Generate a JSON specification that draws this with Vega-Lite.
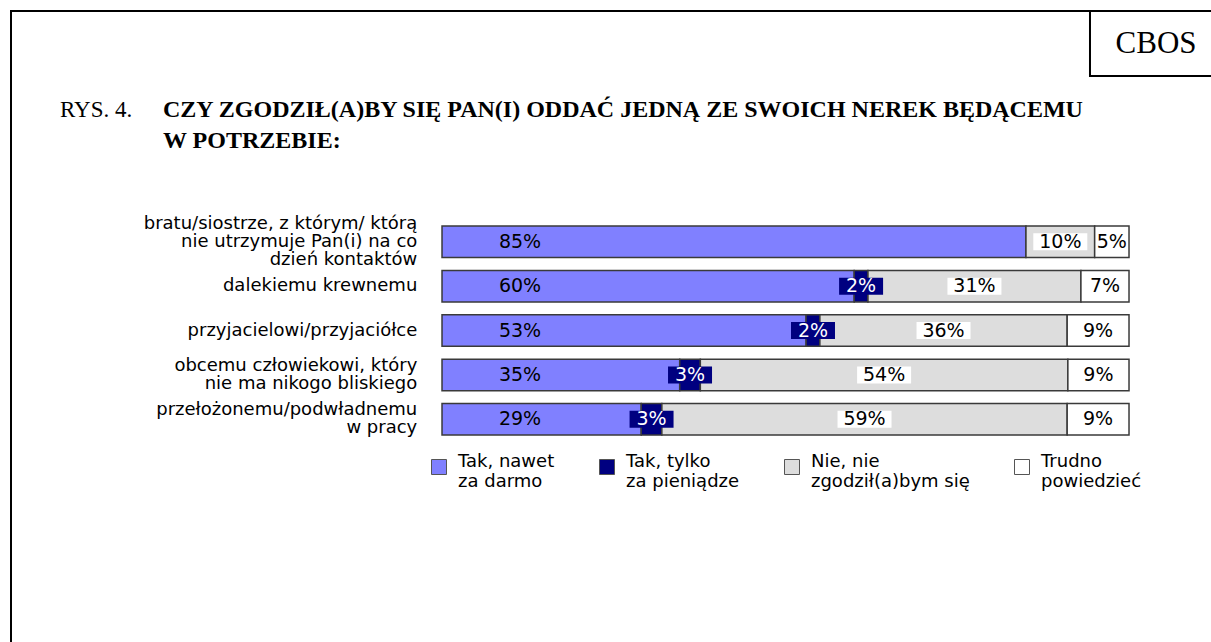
{
  "$schema": "https://vega.github.io/schema/vega-lite/v6.json",
  "width": 1210,
  "height": 640,
  "autosize": {"type": "none"},
  "padding": {"left": 11, "top": 11, "right": 0, "bottom": 0},
  "background": "white",
  "config": {
    "view": {"stroke": "black", "strokeWidth": 2},
    "text": {"font": "DejaVu Sans"}
  },
  "resolve": {"scale": {"y": "independent"}},
  "layer": [
    {
      "data": {
        "values": [
          {"category": "bratu/siostrze, z którym/ którą\nnie utrzymuje Pan(i) na co\ndzień kontaktów", "answer": "Tak, nawet\nza darmo", "value": 85},
          {"category": "bratu/siostrze, z którym/ którą\nnie utrzymuje Pan(i) na co\ndzień kontaktów", "answer": "Nie, nie\nzgodził(a)bym się", "value": 10},
          {"category": "bratu/siostrze, z którym/ którą\nnie utrzymuje Pan(i) na co\ndzień kontaktów", "answer": "Trudno\npowiedzieć", "value": 5},
          {"category": "dalekiemu krewnemu", "answer": "Tak, nawet\nza darmo", "value": 60},
          {"category": "dalekiemu krewnemu", "answer": "Tak, tylko\nza pieniądze", "value": 2},
          {"category": "dalekiemu krewnemu", "answer": "Nie, nie\nzgodził(a)bym się", "value": 31},
          {"category": "dalekiemu krewnemu", "answer": "Trudno\npowiedzieć", "value": 7},
          {"category": "przyjacielowi/przyjaciółce", "answer": "Tak, nawet\nza darmo", "value": 53},
          {"category": "przyjacielowi/przyjaciółce", "answer": "Tak, tylko\nza pieniądze", "value": 2},
          {"category": "przyjacielowi/przyjaciółce", "answer": "Nie, nie\nzgodził(a)bym się", "value": 36},
          {"category": "przyjacielowi/przyjaciółce", "answer": "Trudno\npowiedzieć", "value": 9},
          {"category": "obcemu człowiekowi, który\nnie ma nikogo bliskiego", "answer": "Tak, nawet\nza darmo", "value": 34.6},
          {"category": "obcemu człowiekowi, który\nnie ma nikogo bliskiego", "answer": "Tak, tylko\nza pieniądze", "value": 3},
          {"category": "obcemu człowiekowi, który\nnie ma nikogo bliskiego", "answer": "Nie, nie\nzgodził(a)bym się", "value": 53.5},
          {"category": "obcemu człowiekowi, który\nnie ma nikogo bliskiego", "answer": "Trudno\npowiedzieć", "value": 8.9},
          {"category": "przełożonemu/podwładnemu\nw pracy", "answer": "Tak, nawet\nza darmo", "value": 29},
          {"category": "przełożonemu/podwładnemu\nw pracy", "answer": "Tak, tylko\nza pieniądze", "value": 3},
          {"category": "przełożonemu/podwładnemu\nw pracy", "answer": "Nie, nie\nzgodził(a)bym się", "value": 59},
          {"category": "przełożonemu/podwładnemu\nw pracy", "answer": "Trudno\npowiedzieć", "value": 9}
        ]
      },
      "transform": [
        {"calculate": "indexof(['Tak, nawet\\nza darmo', 'Tak, tylko\\nza pieniądze', 'Nie, nie\\nzgodził(a)bym się', 'Trudno\\npowiedzieć'], datum.answer)", "as": "ord"},
        {"stack": "value", "groupby": ["category"], "sort": [{"field": "ord", "order": "ascending"}], "as": ["x0", "x1"]},
        {"calculate": "(datum.x0 + datum.x1) / 2", "as": "mid"},
        {"calculate": "format(datum.value, '.0f') + '%'", "as": "lbl"},
        {"calculate": "length(split(datum.category, '\\n'))", "as": "nl"}
      ],
      "encoding": {
        "y": {
          "field": "category",
          "type": "nominal",
          "sort": null,
          "scale": {"range": [215, 424.1], "paddingInner": 0.29, "paddingOuter": 0},
          "axis": null
        }
      },
      "layer": [
        {
          "mark": {"type": "bar", "stroke": "#3a3a3a", "strokeWidth": 1.5},
          "encoding": {
            "x": {
              "field": "x0",
              "type": "quantitative",
              "scale": {"domain": [-62.74, 113.39], "nice": false, "zero": false},
              "axis": null
            },
            "x2": {"field": "x1"},
            "color": {
              "field": "answer",
              "type": "nominal",
              "scale": {
                "domain": ["Tak, nawet\nza darmo", "Tak, tylko\nza pieniądze", "Nie, nie\nzgodził(a)bym się", "Trudno\npowiedzieć"],
                "range": ["#8080FF", "#000080", "#DDDDDD", "#FFFFFF"]
              },
              "legend": {
                "title": null,
                "orient": "none",
                "legendX": 419,
                "legendY": 447,
                "direction": "horizontal",
                "columns": 4,
                "gridAlign": "each",
                "columnPadding": 42,
                "symbolType": "square",
                "symbolSize": 225,
                "symbolStrokeColor": "#555555",
                "symbolStrokeWidth": 1,
                "symbolOpacity": 1,
                "labelFont": "DejaVu Sans",
                "labelFontSize": 18,
                "labelColor": "black",
                "labelExpr": "split(datum.label, '\\n')",
                "labelBaseline": "alphabetic",
                "labelOffset": 10,
                "labelLimit": 300
              }
            }
          }
        },
        {
          "transform": [{"filter": "datum.ord == 1"}],
          "mark": {"type": "tick", "thickness": 44, "size": 17, "color": "#000080", "opacity": 1},
          "encoding": {"x": {"field": "mid", "type": "quantitative"}}
        },
        {
          "transform": [{"filter": "datum.ord == 2"}],
          "mark": {"type": "tick", "thickness": 54, "size": 17, "color": "#FFFFFF", "opacity": 1},
          "encoding": {"x": {"field": "mid", "type": "quantitative"}}
        },
        {
          "transform": [{"filter": "datum.ord == 0"}],
          "mark": {"type": "text", "fontSize": 19, "align": "center", "baseline": "middle", "color": "black"},
          "encoding": {"x": {"datum": 11.35}, "text": {"field": "lbl"}}
        },
        {
          "transform": [{"filter": "datum.ord > 0"}],
          "mark": {"type": "text", "fontSize": 19, "align": "center", "baseline": "middle"},
          "encoding": {
            "x": {"field": "mid", "type": "quantitative"},
            "text": {"field": "lbl"},
            "color": {"condition": {"test": "datum.ord == 1", "value": "white"}, "value": "black"}
          }
        },
        {
          "transform": [{"filter": "datum.ord == 0 && datum.nl == 1"}],
          "mark": {"type": "text", "fontSize": 18, "align": "right", "baseline": "middle", "lineBreak": "\n", "lineHeight": 18, "color": "black"},
          "encoding": {"x": {"datum": -3.6}, "text": {"field": "category"}}
        },
        {
          "transform": [{"filter": "datum.ord == 0 && datum.nl == 2"}],
          "mark": {"type": "text", "fontSize": 18, "align": "right", "baseline": "middle", "lineBreak": "\n", "lineHeight": 18, "dy": -9, "color": "black"},
          "encoding": {"x": {"datum": -3.6}, "text": {"field": "category"}}
        },
        {
          "transform": [{"filter": "datum.ord == 0 && datum.nl == 3"}],
          "mark": {"type": "text", "fontSize": 18, "align": "right", "baseline": "middle", "lineBreak": "\n", "lineHeight": 18, "dy": -17.5, "color": "black"},
          "encoding": {"x": {"datum": -3.6}, "text": {"field": "category"}}
        }
      ]
    },
    {
      "layer": [
        {
          "data": {"values": [{"t": "CBOS"}]},
          "mark": {"type": "rect", "fillOpacity": 0, "stroke": "black", "strokeWidth": 2},
          "encoding": {
            "x": {"datum": 94.32},
            "x2": {"datum": 113.3},
            "y": {"datum": 0, "type": "quantitative", "scale": {"domain": [0, 1], "reverse": true, "nice": false, "zero": false}, "axis": null},
            "y2": {"datum": 0.1016}
          }
        },
        {
          "data": {"values": [{"t": "CBOS"}]},
          "mark": {"type": "text", "font": "Liberation Serif", "fontSize": 31, "align": "center", "baseline": "alphabetic", "color": "black"},
          "encoding": {
            "x": {"datum": 103.93},
            "y": {"datum": 0.0656, "type": "quantitative"},
            "text": {"field": "t"}
          }
        },
        {
          "data": {"values": [{"t": "RYS. 4."}]},
          "mark": {"type": "text", "font": "Liberation Serif", "fontSize": 23, "align": "left", "baseline": "alphabetic", "color": "black"},
          "encoding": {
            "x": {"datum": -55.6},
            "y": {"datum": 0.1656, "type": "quantitative"},
            "text": {"field": "t"}
          }
        },
        {
          "data": {"values": [{"t": "CZY ZGODZIŁ(A)BY SIĘ PAN(I) ODDAĆ JEDNĄ ZE SWOICH NEREK BĘDĄCEMU\nW POTRZEBIE:"}]},
          "mark": {"type": "text", "font": "Liberation Serif", "fontSize": 24, "fontWeight": "bold", "align": "left", "baseline": "alphabetic", "lineBreak": "\n", "lineHeight": 31, "color": "black"},
          "encoding": {
            "x": {"datum": -40.61},
            "y": {"datum": 0.1656, "type": "quantitative"},
            "text": {"field": "t"}
          }
        }
      ]
    }
  ]
}
